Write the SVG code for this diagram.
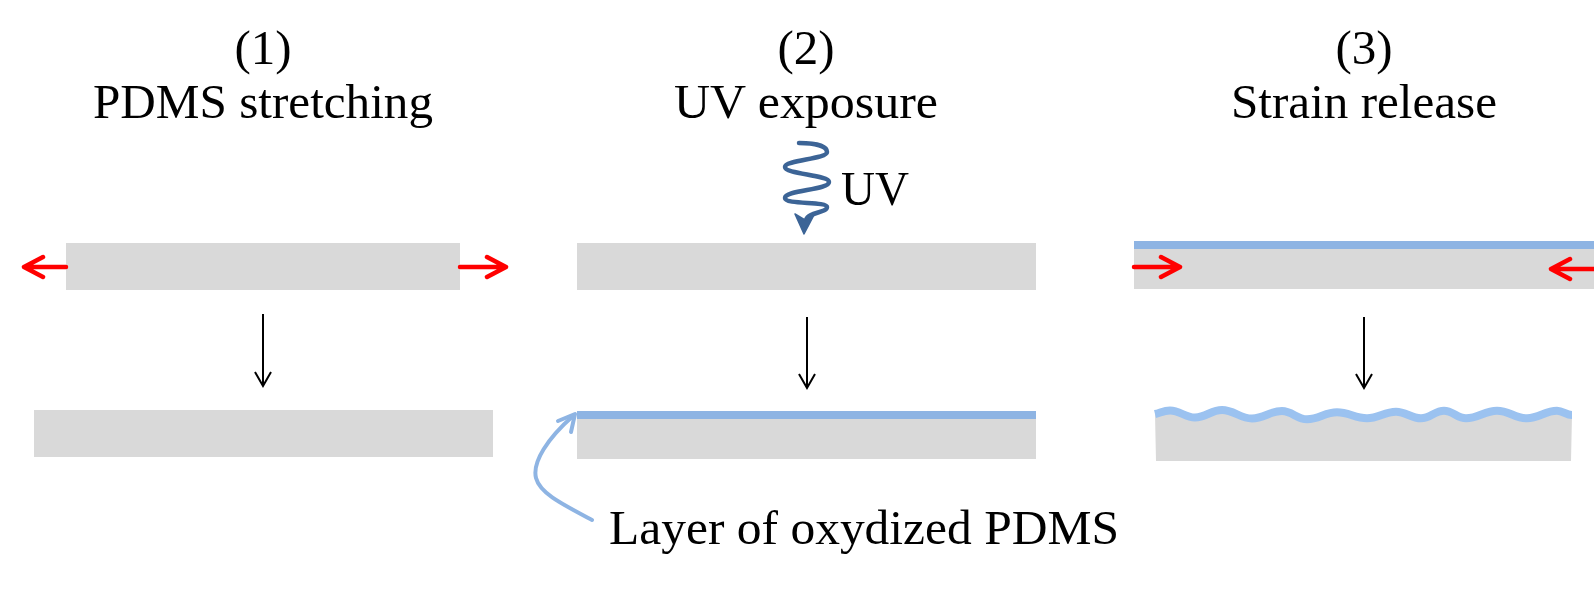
<svg xmlns="http://www.w3.org/2000/svg" width="1594" height="589" viewBox="0 0 1594 589">
<style>
.t{font-family:"Liberation Serif","Times New Roman",serif;font-size:49px;fill:#000}
.slab{fill:#D9D9D9}
.ox{fill:#8EB4E3}
.red{stroke:#FF0000;stroke-width:4.5;fill:none;stroke-linecap:round;stroke-linejoin:round}
.blk{stroke:#000;stroke-width:2;fill:none}
</style>
<rect width="1594" height="589" fill="#fff"/>
<g id="title1">
<text class="t" x="263" y="64" text-anchor="middle">(1)</text>
<text class="t" x="263" y="118" text-anchor="middle" textLength="340" lengthAdjust="spacingAndGlyphs">PDMS stretching</text>
</g>
<g id="title2">
<text class="t" x="806" y="64" text-anchor="middle">(2)</text>
<text class="t" x="806" y="118" text-anchor="middle" textLength="264" lengthAdjust="spacingAndGlyphs">UV exposure</text>
</g>
<g id="title3">
<text class="t" x="1364" y="64" text-anchor="middle">(3)</text>
<text class="t" x="1364" y="118" text-anchor="middle" textLength="266" lengthAdjust="spacingAndGlyphs">Strain release</text>
</g>
<g id="step1-stretched">
<rect class="slab" x="66" y="243" width="394" height="47"/>
<path class="red" d="M66,267 H24 M43,257 L24,267 L43,277"/>
<path class="red" d="M460,267 H506 M487,257 L506,267 L487,277"/>
</g>
<g id="step1-result">
<rect class="slab" x="34" y="410" width="459" height="47"/>
</g>
<g id="uv-source">
<path d="M799,143 C815,143 827,146 827,152 C827,159 785,160 785,167 C785,174 829,175 829,182 C829,190 785,190 785,198 C785,205 827,201 827,207 C827,213 808,212 806,220" fill="none" stroke="#3C6496" stroke-width="4.5" stroke-linecap="round"/>
<path d="M804,234 L795,214 L805,220 L814,215 Z" fill="#3C6496" stroke="#3C6496" stroke-width="1.5" stroke-linejoin="round"/>
<text class="t" x="841" y="205" textLength="68" lengthAdjust="spacingAndGlyphs">UV</text>
</g>
<g id="step2-exposed">
<rect class="slab" x="577" y="243" width="459" height="47"/>
</g>
<g id="step2-result">
<rect class="slab" x="577" y="411" width="459" height="48"/>
<rect class="ox" x="577" y="411" width="459" height="8"/>
</g>
<g id="label-layer">
<path d="M592,520 C560,503 540,493 536,478 C532,462 548,438 573,416" fill="none" stroke="#8EB4E3" stroke-width="4" stroke-linecap="round"/>
<path d="M558,421 L575,414 L571,432" fill="none" stroke="#8EB4E3" stroke-width="4" stroke-linecap="round" stroke-linejoin="round"/>
<text class="t" x="609" y="544" textLength="510" lengthAdjust="spacingAndGlyphs">Layer of oxydized PDMS</text>
</g>
<g id="step3-release">
<rect class="slab" x="1134" y="241" width="460" height="48"/>
<rect class="ox" x="1134" y="241" width="460" height="8"/>
<path class="red" d="M1134,267 H1180 M1161,257 L1180,267 L1161,277"/>
<path class="red" d="M1594,269 H1551 M1570,259 L1551,269 L1570,279"/>
</g>
<g id="step3-wrinkled">
<path class="slab" d="M1155,414 C1161,412.5 1164,410.5 1170,410.5 C1180,410.5 1185,417.5 1195,417.5 C1205.8,417.5 1211.2,410 1222,410 C1234,410 1240,418.5 1252,418.5 C1264,418.5 1270,411 1282,411 C1292,411 1297,419.3 1307,419.3 C1319,419.3 1325,412.3 1337,412.3 C1349,412.3 1355,418.3 1367,418.3 C1378.6,418.3 1384.4,411.7 1396,411.7 C1406,411.7 1411,418.3 1421,418.3 C1430.2,418.3 1434.8,410.7 1444,410.7 C1452.8,410.7 1457.2,418.3 1466,418.3 C1478.4,418.3 1484.6,410.7 1497,410.7 C1509,410.7 1515,418.3 1527,418.3 C1539,418.3 1545,410.7 1557,410.7 C1563,410.7 1566,415 1572,415 L1571,461 L1156,461 Z"/>
<path d="M1155,414 C1161,412.5 1164,410.5 1170,410.5 C1180,410.5 1185,417.5 1195,417.5 C1205.8,417.5 1211.2,410 1222,410 C1234,410 1240,418.5 1252,418.5 C1264,418.5 1270,411 1282,411 C1292,411 1297,419.3 1307,419.3 C1319,419.3 1325,412.3 1337,412.3 C1349,412.3 1355,418.3 1367,418.3 C1378.6,418.3 1384.4,411.7 1396,411.7 C1406,411.7 1411,418.3 1421,418.3 C1430.2,418.3 1434.8,410.7 1444,410.7 C1452.8,410.7 1457.2,418.3 1466,418.3 C1478.4,418.3 1484.6,410.7 1497,410.7 C1509,410.7 1515,418.3 1527,418.3 C1539,418.3 1545,410.7 1557,410.7 C1563,410.7 1566,415 1572,415" fill="none" stroke="#9BC2F0" stroke-width="8"/>
</g>
<g id="connectors">
<path class="blk" d="M263,314 V386 M255,372 L263,386 L271,372"/>
<path class="blk" d="M807,317 V388 M799,374 L807,388 L815,374"/>
<path class="blk" d="M1364,317 V388 M1356,374 L1364,388 L1372,374"/>
</g>
</svg>
